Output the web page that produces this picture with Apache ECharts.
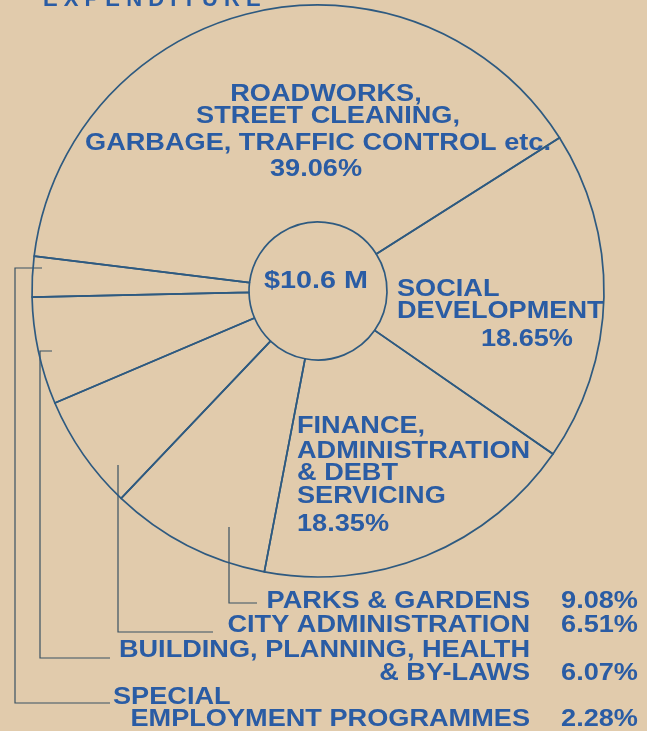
<!DOCTYPE html>
<html>
<head>
<meta charset="utf-8">
<script src="https://cdn.jsdelivr.net/npm/echarts@6/dist/echarts.min.js"></script>
<style>
  html, body { margin: 0; padding: 0; background: #e1cbac; }
  #chart { width: 647px; height: 731px; }
</style>
</head>
<body>
<div id="chart"></div>
<script>
const categories = [
  "ROADWORKS, STREET CLEANING, GARBAGE, TRAFFIC CONTROL etc.",
  "SOCIAL DEVELOPMENT",
  "FINANCE, ADMINISTRATION & DEBT SERVICING",
  "PARKS & GARDENS",
  "CITY ADMINISTRATION",
  "BUILDING, PLANNING, HEALTH & BY-LAWS",
  "SPECIAL EMPLOYMENT PROGRAMMES",
]
const shares = [39.06, 18.65, 18.35, 9.08, 6.51, 6.07, 2.28]
const labelRows = [
  ["ROADWORKS,", "STREET CLEANING,", "GARBAGE, TRAFFIC CONTROL etc."],
  ["SOCIAL", "DEVELOPMENT"],
  ["FINANCE,", "ADMINISTRATION", "& DEBT", "SERVICING"],
  ["PARKS & GARDENS"],
  ["CITY ADMINISTRATION"],
  ["BUILDING, PLANNING, HEALTH", "& BY-LAWS"],
  ["SPECIAL", "EMPLOYMENT PROGRAMMES"],
]
const totalLabel = "$10.6 M"
const title = "EXPENDITURE"

// layout
const blue = "#2a5ca4"
const ink = "#3a5262"
const font = 'bold 23px "Liberation Sans", Arial, sans-serif'
const stretch = 1.18

const labelPos = [
  { rows: [[326, 95, "center"], [328, 117, "center"], [318, 144, "center"]], pct: [316, 170, "center"] },
  { rows: [[397, 290, "left"], [397, 312, "left"]], pct: [573, 340, "right"] },
  { rows: [[297, 427, "left"], [297, 452, "left"], [297, 474, "left"], [297, 497, "left"]], pct: [297, 525, "left"] },
  { rows: [[530, 602, "right"]], pct: [638, 602, "right"] },
  { rows: [[530, 626, "right"]], pct: [638, 626, "right"] },
  { rows: [[530, 651, "right"], [530, 674, "right"]], pct: [638, 674, "right"] },
  { rows: [[113, 698, "left"], [530, 720, "right"]], pct: [638, 720, "right"] },
]

const brackets = [
  [[229, 527], [229, 603], [257, 603]],
  [[118, 465], [118, 632], [213, 632]],
  [[52, 351], [40, 351], [40, 658], [110, 658]],
  [[42, 268], [15, 268], [15, 703], [110, 703]],
]

function text(s, x, y, align, sx) {
  return {
    type: "text",
    x: x,
    y: y,
    scaleX: sx || stretch,
    silent: true,
    style: { text: s, fill: blue, font: font, textAlign: align, textVerticalAlign: "middle" },
  }
}

const graphics = []
graphics.push({
  type: "text",
  x: 43,
  y: 0,
  silent: true,
  style: {
    text: title.split("").join(" "),
    fill: blue,
    font: 'bold 22px "Liberation Sans", Arial, sans-serif',
    textVerticalAlign: "middle",
  },
})
graphics.push(text(totalLabel, 316, 282, "center", 1.25))

labelRows.forEach((rows, i) => {
  const pos = labelPos[i]
  rows.forEach((r, j) => {
    const p = pos.rows[j]
    graphics.push(text(r, p[0], p[1], p[2]))
  })
  graphics.push(text(shares[i].toFixed(2) + "%", pos.pct[0], pos.pct[1], pos.pct[2]))
})

brackets.forEach((pts) => {
  graphics.push({
    type: "polyline",
    silent: true,
    shape: { points: pts },
    style: { stroke: ink, lineWidth: 1.2, fill: null },
  })
})

const chart = echarts.init(document.getElementById("chart"))
chart.setOption({
  backgroundColor: "#e1cbac",
  animation: false,
  series: [
    {
      type: "pie",
      center: [318, 291],
      radius: [69, 286],
      startAngle: 173,
      clockwise: true,
      silent: true,
      label: { show: false },
      labelLine: { show: false },
      itemStyle: { color: "rgba(0,0,0,0)", borderColor: "#2e5a80", borderWidth: 1.7 },
      emphasis: { disabled: true },
      data: categories.map((name, i) => ({ name: name, value: shares[i] })),
    },
  ],
  graphic: graphics,
})
</script>
</body>
</html>
